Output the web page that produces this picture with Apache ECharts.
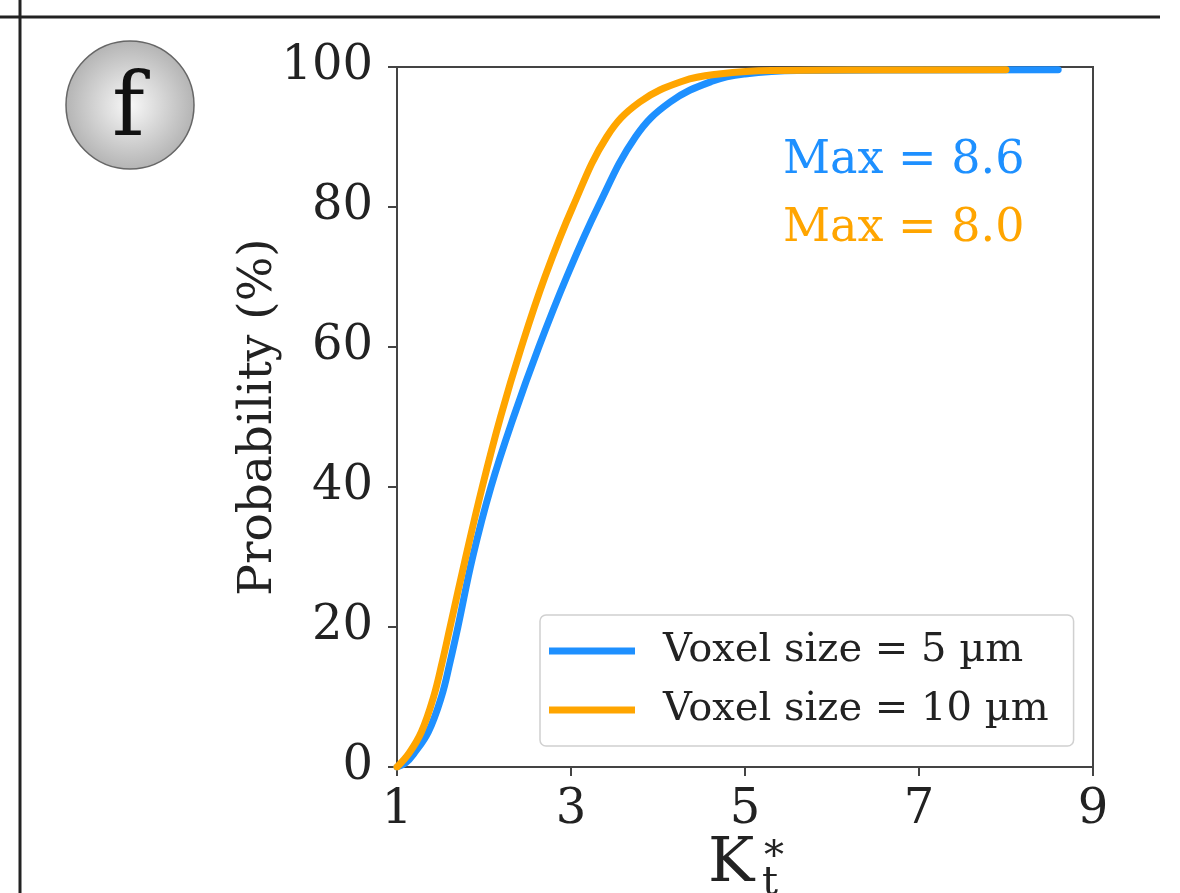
<!DOCTYPE html>
<html>
<head>
<meta charset="utf-8">
<script src="https://cdn.jsdelivr.net/npm/echarts@6/dist/echarts.min.js"></script>
<style>
  html, body { margin: 0; padding: 0; background: #ffffff; }
  #chart { width: 1180px; height: 893px; }
</style>
</head>
<body>
<div id="chart"></div>
<script>
  // Kt* values and cumulative probability (%)
  var kt5  = [1.0, 1.10, 1.20, 1.36, 1.51, 1.61, 1.70, 1.87, 2.08, 2.34, 2.63, 2.95, 3.31, 3.74, 4.14, 4.63, 5.0, 5.6, 8.6];
  var pr5  = [0,   0.6,  2,    5,    10,   15,   20,   30,   40,   50,   60,   70,   80,   90,   95,   98,   99,  99.5, 99.6];
  var kt10 = [1.0, 1.14, 1.28, 1.42, 1.52, 1.61, 1.79, 1.98, 2.19, 2.43, 2.70, 3.02, 3.41, 3.79, 4.29, 4.7, 5.3, 8.0];
  var pr10 = [0,   2,    5,    10,   15,   20,   30,   40,   50,   60,   70,   80,   90,   95,   98,   99,  99.5, 99.6];

  var seriesNames = ['Voxel size = 5 µm', 'Voxel size = 10 µm'];
  var maxLabels = ['Max = 8.6', 'Max = 8.0'];
  var xTicks = [1, 3, 5, 7, 9];
  var yTicks = [0, 20, 40, 60, 80, 100];

  var blue = '#1e90ff';
  var orange = '#ffa500';
  var serif = 'DejaVu Serif';

  function pairs(xs, ys) {
    var out = [];
    for (var i = 0; i < xs.length; i++) out.push([xs[i], ys[i]]);
    return out;
  }

  var chart = echarts.init(document.getElementById('chart'));

  var option = {
    backgroundColor: '#ffffff',
    animation: false,
    grid: {
      left: 397, top: 67, right: 87, bottom: 126,
      outerBoundsMode: 'none', containLabel: false,
      show: true, borderColor: '#444', borderWidth: 2, backgroundColor: 'transparent'
    },
    legend: {
      orient: 'vertical',
      left: 540, top: 615,
      data: seriesNames,
      icon: 'rect',
      itemWidth: 86, itemHeight: 7,
      itemGap: 17,
      padding: [15, 25, 15, 9],
      backgroundColor: '#fff',
      borderColor: '#d0d0d0', borderWidth: 1.5, borderRadius: 6,
      textStyle: { fontFamily: serif, fontSize: 40, color: '#222', lineHeight: 42, padding: [0, 0, 0, 23] }
    },
    xAxis: {
      type: 'value', min: xTicks[0], max: xTicks[xTicks.length - 1], interval: 2,
      splitLine: { show: false },
      axisLine: { lineStyle: { color: '#444', width: 2 } },
      axisTick: { length: 9, lineStyle: { color: '#444', width: 2 } },
      axisLabel: { fontFamily: serif, fontSize: 48, color: '#222', margin: 20 }
    },
    yAxis: {
      type: 'value', min: yTicks[0], max: yTicks[yTicks.length - 1], interval: 20,
      splitLine: { show: false },
      axisLine: { lineStyle: { color: '#444', width: 2 } },
      axisTick: { length: 9, lineStyle: { color: '#444', width: 2 } },
      axisLabel: { fontFamily: serif, fontSize: 48, color: '#222', margin: 24 },
      name: 'Probability (%)',
      nameLocation: 'middle', nameGap: 115, nameMoveOverlap: false,
      nameTextStyle: { fontFamily: serif, fontSize: 47, color: '#222' }
    },
    graphic: [
      { type: 'line', shape: { x1: 0, y1: 17, x2: 1160, y2: 17 }, style: { stroke: '#222', lineWidth: 3 } },
      { type: 'line', shape: { x1: 20, y1: 0, x2: 20, y2: 893 }, style: { stroke: '#222', lineWidth: 3 } },
      {
        type: 'circle', shape: { cx: 130, cy: 105, r: 64 },
        style: {
          fill: new echarts.graphic.RadialGradient(0.5, 0.5, 0.5, [
            { offset: 0, color: '#f8f8f8' },
            { offset: 1, color: '#b4b4b4' }
          ]),
          stroke: '#666', lineWidth: 1.5
        }
      },
      {
        type: 'text', left: 112, top: 68,
        style: { text: 'f', font: '88px "DejaVu Serif"', fill: '#111' }
      },
      {
        type: 'text', left: 783, top: 138,
        style: { text: maxLabels[0], font: '46px "DejaVu Serif"', fill: blue }
      },
      {
        type: 'text', left: 783, top: 206,
        style: { text: maxLabels[1], font: '46px "DejaVu Serif"', fill: orange }
      },
      // x axis title K_t^*
      { type: 'text', left: 708, top: 834, style: { text: 'K', font: '62px "DejaVu Serif"', fill: '#222' } },
      { type: 'text', left: 762, top: 864, style: { text: 't', font: '40px "DejaVu Serif"', fill: '#222' } },
      { type: 'text', left: 764, top: 838, style: { text: '*', font: '40px "DejaVu Serif"', fill: '#222' } }
    ],
    series: [
      {
        name: seriesNames[0], type: 'line', data: pairs(kt5, pr5),
        smooth: 0.4, showSymbol: false, z: 2,
        lineStyle: { color: blue, width: 7, cap: 'round' }, itemStyle: { color: blue }
      },
      {
        name: seriesNames[1], type: 'line', data: pairs(kt10, pr10),
        smooth: 0.4, showSymbol: false, z: 3,
        lineStyle: { color: orange, width: 7, cap: 'round' }, itemStyle: { color: orange }
      }
    ]
  };

  chart.setOption(option);
</script>
</body>
</html>
